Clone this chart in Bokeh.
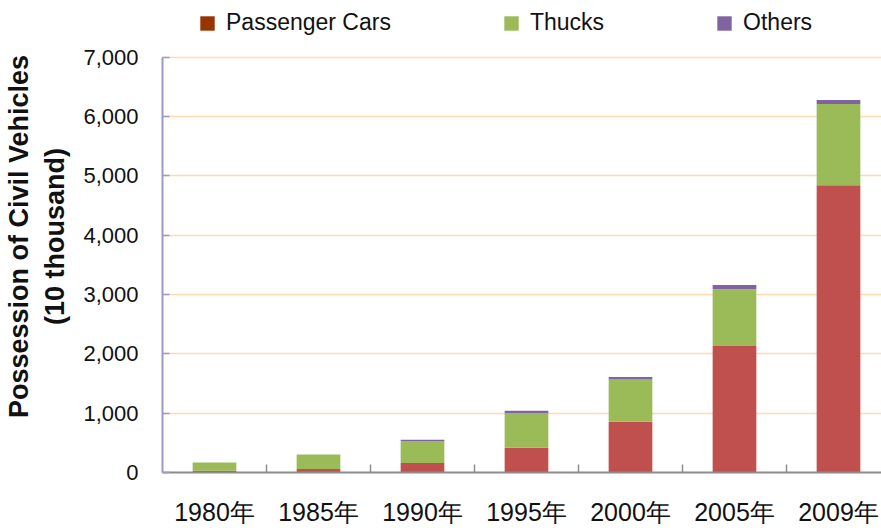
from bokeh.plotting import figure
from bokeh.models import (ColumnDataSource, Range1d, FixedTicker, NumeralTickFormatter,
                          CustomJSTickFormatter, Legend, LegendItem)
from bokeh.embed import file_html
from bokeh.resources import INLINE

# ---- data (10 thousand vehicles) ----
years = ["1980年", "1985年", "1990年", "1995年", "2000年", "2005年", "2009年"]
passenger_cars = [30, 60, 162, 418, 854, 2132, 4845]
trucks = [140, 245, 368, 585, 716, 956, 1369]
others = [0, 0, 21, 37, 39, 72, 67]
y_ticks = [0, 1000, 2000, 3000, 4000, 5000, 6000, 7000]
y_max = 7000

colors = {"passenger": "#C0504D", "trucks": "#9BBB59", "others": "#8064A2"}
passenger_legend_color = "#993300"
legend_labels = ["Passenger Cars", "Thucks", "Others"]

xpos = list(range(len(years)))
source = ColumnDataSource(dict(x=xpos, passenger=passenger_cars, trucks=trucks, others=others))

FRAME_H = 473          # frame spans whole top area so the legend is not clipped
AXIS_H = 416           # pixel height of the 0..7000 axis
FRAME_W = 719
p = figure(width=881, height=528, output_backend="svg", toolbar_location=None,
           x_range=Range1d(-0.5, -0.5 + FRAME_W / 104),
           y_range=Range1d(0, y_max * FRAME_H / AXIS_H),
           min_border_left=162, min_border_right=0, min_border_top=0, min_border_bottom=55)
p.outline_line_color = None
p.background_fill_color = "white"
p.border_fill_color = "white"

stack = p.vbar_stack(["passenger", "trucks", "others"], x="x", width=0.42,
                     color=[colors["passenger"], colors["trucks"], colors["others"]],
                     line_color=None, source=source)

# legend-only handle for the darker passenger-car swatch (no visible mark)
nan = float("nan")
pc_handle = p.vbar(x=[nan], top=[nan], width=0.4, fill_color=passenger_legend_color, line_color=None)

legend = Legend(items=[LegendItem(label=legend_labels[0], renderers=[pc_handle]),
                       LegendItem(label=legend_labels[1], renderers=[stack[1]]),
                       LegendItem(label=legend_labels[2], renderers=[stack[2]])],
                orientation="horizontal", location=(36, 436), glyph_width=18, glyph_height=18,
                label_standoff=10, spacing=111, padding=0, margin=0,
                border_line_color=None, background_fill_alpha=0,
                label_text_font="Liberation Sans", label_text_font_size="23px",
                label_text_color="#111111")
p.add_layout(legend, "center")

# y axis
yax = p.yaxis[0]
yax.bounds = (0, y_max)
yax.ticker = FixedTicker(ticks=y_ticks)
yax.formatter = NumeralTickFormatter(format="0,0")
yax.axis_line_color = "#9C99C6"
yax.axis_line_width = 2
yax.major_tick_line_color = "#9C99C6"
yax.major_tick_line_width = 1.5
yax.major_tick_in = 7
yax.major_tick_out = 0
yax.minor_tick_line_color = None
yax.major_label_text_font = "Liberation Sans"
yax.major_label_text_font_size = "22px"
yax.major_label_text_color = "#111111"
yax.major_label_standoff = 24
yax.axis_label = "Possession of Civil Vehicles\n(10 thousand)"
yax.axis_label_text_font = "Liberation Sans"
yax.axis_label_text_font_style = "bold"
yax.axis_label_text_font_size = "27px"
yax.axis_label_text_color = "#111111"
yax.axis_label_standoff = 10

# x axis
xax = p.xaxis[0]
xax.ticker = FixedTicker(ticks=xpos, minor_ticks=[i + 0.5 for i in xpos[:-1]])
xax.formatter = CustomJSTickFormatter(args=dict(labels=years),
                                      code="const i = Math.round(tick); return labels[i] || '';")
xax.axis_line_color = "#8C8C8C"
xax.axis_line_width = 2
xax.major_tick_line_color = None
xax.major_tick_in = 0
xax.major_tick_out = 0
xax.minor_tick_line_color = "#8C8C8C"
xax.minor_tick_line_width = 1.5
xax.minor_tick_in = 8
xax.minor_tick_out = 0
xax.major_label_text_font = "Liberation Sans"
xax.major_label_text_font_size = "25px"
xax.major_label_text_color = "#111111"
xax.major_label_standoff = 25

p.xgrid.grid_line_color = None
p.ygrid.ticker = FixedTicker(ticks=y_ticks)
p.ygrid.bounds = (0, y_max)
p.ygrid.grid_line_color = "#FDDBAE"
p.ygrid.grid_line_width = 1.5

open("out.html", "w").write(file_html(p, INLINE))
